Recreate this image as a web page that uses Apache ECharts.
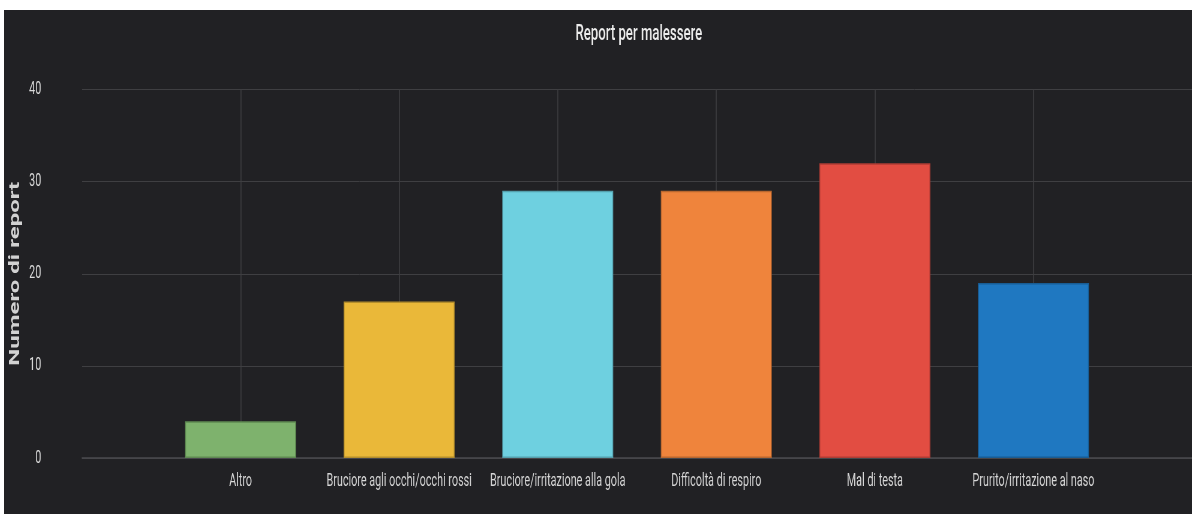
<!DOCTYPE html>
<html>
<head>
<meta charset="utf-8">
<script src="https://cdn.jsdelivr.net/npm/echarts@6/dist/echarts.min.js"></script>
<style>
html,body{margin:0;padding:0;background:#ffffff;width:1194px;height:514px;overflow:hidden;}
#wrap{position:absolute;left:4px;top:10px;width:1188px;height:504px;background:#212124;overflow:hidden;}
#chart{position:absolute;left:0;top:0;width:1980px;height:504px;transform:scaleX(0.6);transform-origin:0 0;}
</style>
</head>
<body>
<div id="wrap"><div id="chart"></div></div>
<script>
const categories = ['Altro','Bruciore agli occhi/occhi rossi','Bruciore/irritazione alla gola','Difficoltà di respiro','Mal di testa','Prurito/irritazione al naso'];
const values = [4, 17, 29, 29, 32, 19];
const colors = ['#7EB26D','#EAB839','#6ED0E0','#EF843C','#E24D42','#1F78C1'];
const borders = ['#5f8a52','#b48e2c','#54a0ad','#b9672f','#b03c34','#185d95'];
const yTicks = [0, 10, 20, 30, 40];

const padded = [''].concat(categories, ['']);
const seriesData = [null].concat(values.map((v, i) => ({
  value: v,
  itemStyle: {color: colors[i], borderColor: borders[i], borderWidth: 1.5}
})), [null]);

const font = 'Roboto, sans-serif';
const chart = echarts.init(document.getElementById('chart'), null, {renderer: 'canvas'});
chart.setOption({
  backgroundColor: '#212124',
  animation: false,
  title: {
    text: 'Report per malessere',
    left: 1053, top: 8, textAlign: 'center',
    textStyle: {color: '#ececec', fontSize: 22, fontWeight: 500, fontFamily: font}
  },
  grid: {left: 130, right: 0, top: 79.5, bottom: 56, containLabel: false, outerBoundsMode: 'none'},
  xAxis: {
    type: 'category',
    data: padded,
    boundaryGap: false,
    axisLine: {show: true, lineStyle: {color: '#4a4a4d', width: 1.5}},
    axisTick: {show: false},
    axisLabel: {color: '#d6d6d6', fontSize: 18, fontFamily: font, margin: 14, interval: 0},
    splitLine: {
      show: true,
      interval: (idx) => idx > 0 && idx < padded.length - 1,
      lineStyle: {color: '#3f3f42', width: 1.6}
    }
  },
  yAxis: {
    type: 'value',
    min: yTicks[0], max: yTicks[yTicks.length - 1], interval: 10,
    name: 'Numero di report',
    nameLocation: 'middle',
    nameGap: 93,
    nameRotate: 90,
    nameTextStyle: {color: '#d2d2d2', fontSize: 24, fontWeight: 'bold', fontFamily: font},
    axisLine: {show: false},
    axisTick: {show: false},
    axisLabel: {color: '#dadada', fontSize: 18, fontFamily: font, margin: 68},
    splitLine: {show: true, lineStyle: {color: '#3f3f42', width: 1}}
  },
  series: [{
    type: 'bar',
    data: seriesData,
    barWidth: '70%'
  }]
});
</script>
</body>
</html>
